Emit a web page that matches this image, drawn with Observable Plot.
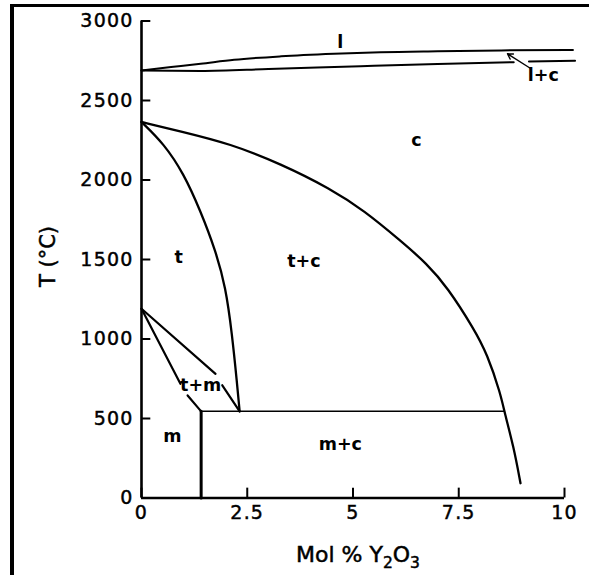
<!DOCTYPE html>
<html><head><meta charset="utf-8">
<script src="https://cdn.jsdelivr.net/npm/d3@7"></script>
<script src="https://cdn.jsdelivr.net/npm/@observablehq/plot@0.6"></script>
<style>
html,body{margin:0;padding:0;background:#fff;}
#wrap{position:relative;width:589px;height:575px;overflow:hidden;}
#chart svg{display:block;}
#border{position:absolute;left:10px;top:4px;width:600px;height:600px;border-top:3.5px solid #000;border-left:4px solid #000;pointer-events:none;}
g[aria-label$="tick label"] text{letter-spacing:1.2px;stroke:#000;stroke-width:0.45px;}
text.title{stroke:#000;stroke-width:0.5px;}
</style></head><body><div id="wrap"><div id="chart"></div><div id="border"></div></div>
<script>
// axis ticks
const xTicks = [0, 2.5, 5, 7.5, 10];
const xTickLabels = ["0", "2.5", "5", "7.5", "10"];
const yTicks = [0, 500, 1000, 1500, 2000, 2500, 3000];
const yTickLabels = ["0", "500", "1000", "1500", "2000", "2500", "3000"];
const xTitle = "Mol % Y2O3";
const yTitle = "T (°C)";

// liquidus (upper line, "l")
const liquidusX = [0, 0.7, 1.4, 2.19, 3.3, 4.55, 5.65, 7, 8.5, 10.2];
const liquidusT = [2689, 2710, 2731, 2756, 2778, 2794, 2804, 2810, 2815, 2818];
// solidus (lower line of l+c), drawn in two pieces around the arrow
const solidusAX = [0, 0.7, 1.4, 3, 5.18, 7, 8.8];
const solidusAT = [2689, 2687, 2686, 2698, 2716, 2730, 2741];
const solidusBX = [9.16, 10.25];
const solidusBT = [2745, 2750];

// c / t+c boundary
const cBoundX = [0, 0.92, 2.1, 3.29, 4.47, 5.26, 6.12, 6.75, 7.23, 7.86, 8.17, 8.49, 8.58, 8.8, 8.96];
const cBoundT = [2365, 2306, 2228, 2102, 1945, 1808, 1619, 1473, 1326, 1064, 907, 655, 540, 320, 93];
// t / t+c boundary
const tBoundX = [0, 0.53, 1.0, 1.39, 1.75, 1.99, 2.14, 2.26, 2.32];
const tBoundT = [2365, 2228, 2039, 1808, 1557, 1326, 1033, 718, 545];

// t / t+m boundaries (two pieces each, gap for label)
const tmUpperAX = [0, 1.75], tmUpperAT = [1190, 781];
const tmUpperBX = [1.91, 2.32], tmUpperBT = [709, 545];
const tmLowerAX = [0, 0.92], tmLowerAT = [1190, 718];
const tmLowerBX = [1.09, 1.41], tmLowerBT = [645, 545];

// eutectoid line and m / m+c boundary
const eutectoidX = [1.41, 8.58], eutectoidT = [545, 545];
const mBoundX = [1.41, 1.41], mBoundT = [545, 0];

// region labels
const regionText = ["l", "c", "t", "t+c", "t+m", "m", "m+c", "l+c"];
const regionX = [4.70, 6.5, 0.88, 3.84, 1.40, 0.73, 4.7, 9.5];
const regionT = [2866, 2248, 1514, 1489, 708, 387, 335, 2657];

// arrow pointing to the l+c field
const arrowFrom = [9.2, 2701];
const arrowTo = [8.65, 2794];

const zip = (xs, ts) => xs.map((x, i) => ({x, t: ts[i]}));
const line = (xs, ts, sw = 2.3, curve = "linear") =>
  Plot.line(zip(xs, ts), {x: "x", y: "t", stroke: "#000", strokeWidth: sw, curve});

const regions = regionText.map((s, i) => ({s, x: regionX[i], t: regionT[i]}));

const chart = Plot.plot({
  width: 589, height: 575,
  marginLeft: 141, marginRight: 25, marginTop: 20.5, marginBottom: 77.5,
  x: {domain: [0, 10]},
  y: {domain: [0, 3000]},
  style: {fontFamily: "DejaVu Sans, sans-serif", fontSize: "19px", color: "#000", background: "#fff"},
  marks: [
    Plot.axisX({ticks: xTicks, tickFormat: d => xTickLabels[xTicks.indexOf(d)], tickSize: 0, tickPadding: 7, label: null, fontSize: 19}),
    Plot.axisY({ticks: yTicks, tickFormat: d => yTickLabels[yTicks.indexOf(d)], tickSize: 0, tickPadding: 8, label: null, fontSize: 19}),
    Plot.ruleY(yTicks, {y: d => d, x1: 0, x2: 0.22, stroke: "#000", strokeWidth: 2}),
    Plot.ruleX(xTicks, {x: d => d, y1: 0, y2: 62, stroke: "#000", strokeWidth: 2}),
    Plot.ruleX([0], {y1: 0, y2: 3000, stroke: "#000", strokeWidth: 2.6}),
    Plot.ruleY([0], {x1: 0, x2: 10, stroke: "#000", strokeWidth: 2.6}),
    line(liquidusX, liquidusT, 2, "monotone-x"),
    line(solidusAX, solidusAT, 2, "monotone-x"),
    line(solidusBX, solidusBT, 2),
    line(cBoundX, cBoundT, 2.3, "basis"),
    line(tBoundX, tBoundT, 2.3, "basis"),
    line(tmUpperAX, tmUpperAT, 2.2),
    line(tmUpperBX, tmUpperBT, 2.2),
    line(tmLowerAX, tmLowerAT, 2.2),
    line(tmLowerBX, tmLowerBT, 2.2),
    line(eutectoidX, eutectoidT, 1.5),
    line(mBoundX, mBoundT, 3),
    Plot.arrow([{x1: arrowFrom[0], y1: arrowFrom[1], x2: arrowTo[0], y2: arrowTo[1]}],
      {x1: "x1", y1: "y1", x2: "x2", y2: "y2", stroke: "#000", strokeWidth: 1.3, headLength: 7}),
    Plot.text(regions, {x: "x", y: "t", text: "s", fontSize: 17.5, fontWeight: "bold", fill: "#000"}),
    Plot.text([yTitle], {frameAnchor: "left", textAnchor: "middle", lineAnchor: "middle", dx: -93, dy: -3, rotate: -90, fontSize: 21, fill: "#000", className: "title"}),
    Plot.text([xTitle], {frameAnchor: "bottom", textAnchor: "middle", lineAnchor: "middle", dy: 57, dx: 5, fontSize: 22, fill: "#000", className: "title"})
  ]
});
document.getElementById("chart").appendChild(chart);

// subscripts in the x title
d3.select(chart).selectAll("text").filter(function() { return this.textContent === xTitle; })
  .each(function() {
    const t = d3.select(this);
    t.text(null);
    t.append("tspan").text("Mol % Y");
    t.append("tspan").attr("font-size", 15.5).attr("dy", 6).text("2");
    t.append("tspan").attr("dy", -6).text("O");
    t.append("tspan").attr("font-size", 15.5).attr("dy", 6).text("3");
  });
d3.select(chart).selectAll("text").filter(function() { return this.textContent === yTitle || this.textContent === "" ; });
d3.select(chart).selectAll("g[aria-label='text'] text").each(function() {
  const s = this.textContent;
  if (s === yTitle || s.startsWith("Mol")) this.setAttribute("class", "title");
});
</script></body></html>
